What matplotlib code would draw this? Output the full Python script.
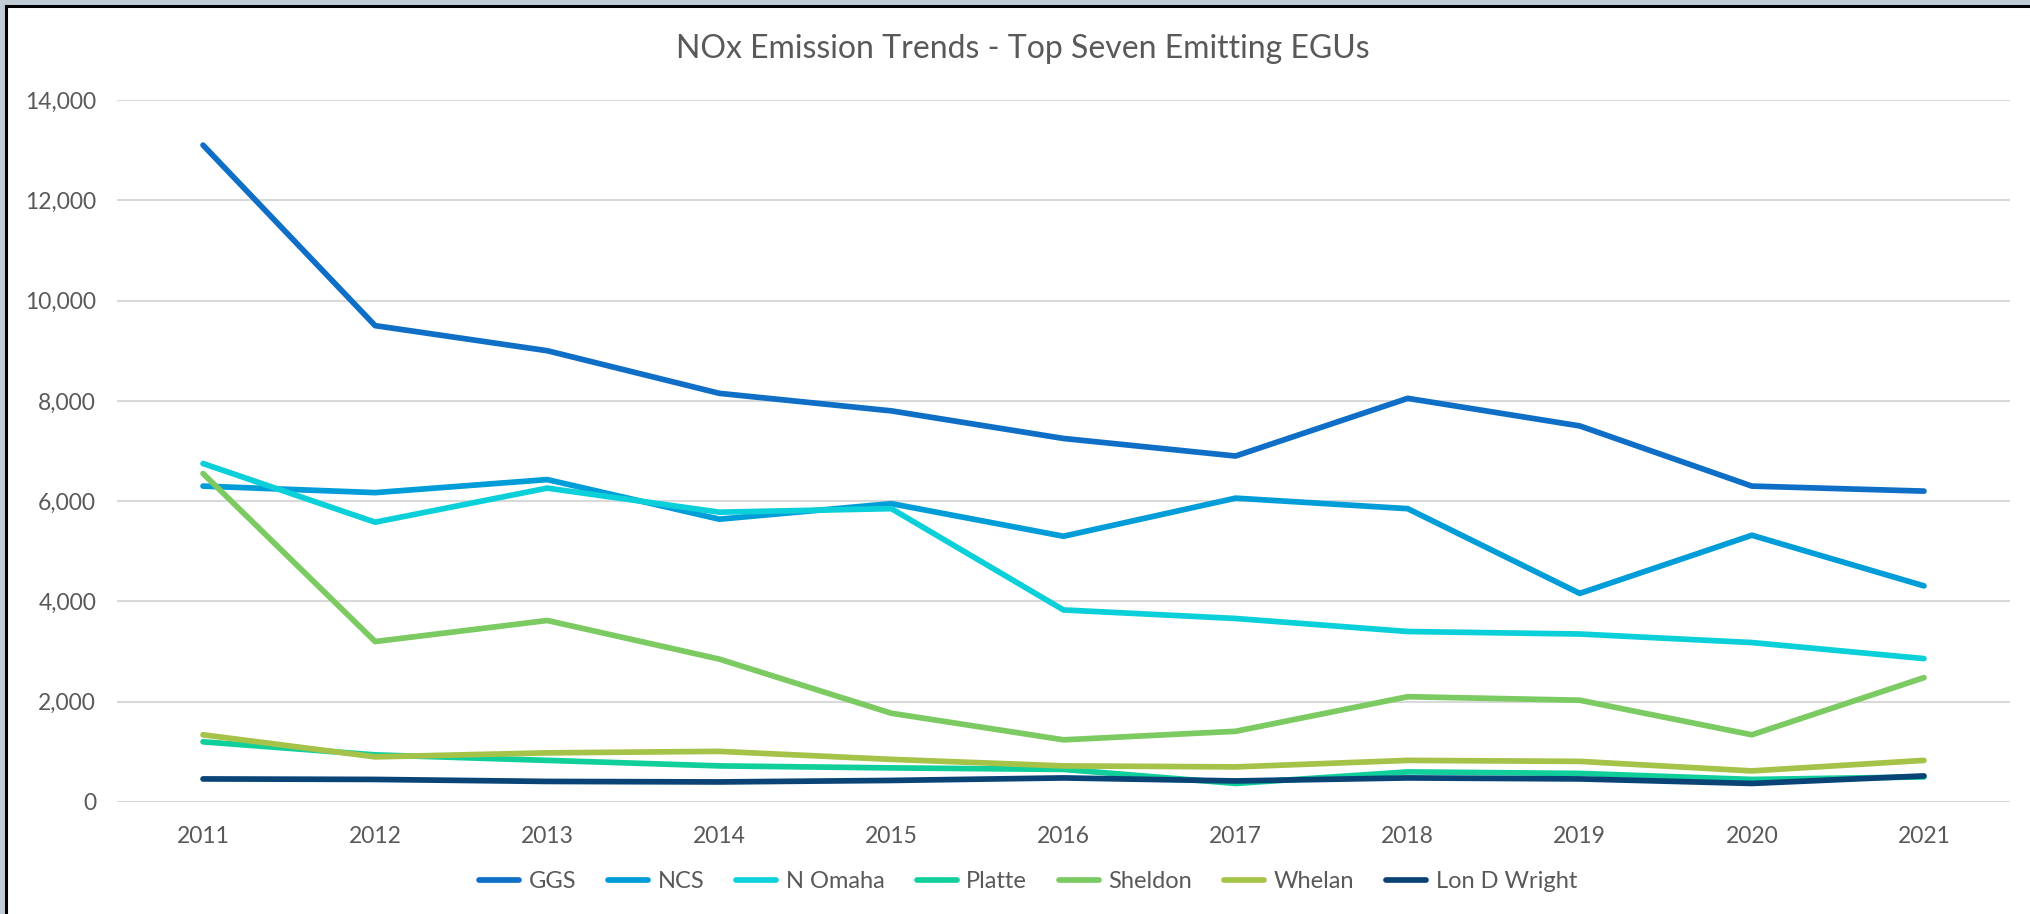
import matplotlib
matplotlib.use("Agg")
import matplotlib.pyplot as plt
from matplotlib.patches import Rectangle
from matplotlib.ticker import FuncFormatter

years = [2011, 2012, 2013, 2014, 2015, 2016, 2017, 2018, 2019, 2020, 2021]
ggs = [13100, 9500, 9000, 8150, 7800, 7250, 6900, 8050, 7500, 6300, 6200]
ncs = [6300, 6170, 6430, 5640, 5950, 5300, 6060, 5850, 4160, 5320, 4310]
n_omaha = [6750, 5580, 6260, 5780, 5850, 3830, 3660, 3400, 3350, 3180, 2860]
platte = [1200, 940, 830, 720, 680, 650, 370, 600, 570, 450, 500]
sheldon = [6550, 3200, 3620, 2850, 1770, 1240, 1410, 2100, 2030, 1340, 2480]
whelan = [1340, 900, 980, 1010, 850, 720, 700, 830, 810, 620, 830]
lon_d_wright = [460, 450, 410, 400, 430, 480, 420, 480, 460, 370, 520]

series_names = ["GGS", "NCS", "N Omaha", "Platte", "Sheldon", "Whelan", "Lon D Wright"]
series_values = [ggs, ncs, n_omaha, platte, sheldon, whelan, lon_d_wright]
colors = ["#0F6FC6", "#009DD9", "#0BD0D9", "#10CF9B", "#7CCA62", "#A5C249", "#0A4477"]

plt.rcParams['font.family'] = ['Lato', 'DejaVu Sans']
W, H = 2030, 914
fig = plt.figure(figsize=(W / 100, H / 100), dpi=100)
fig.patch.set_facecolor("#BFCCD6")
# white chart area with black frame (top/left visible)
frame = Rectangle((6 / W, -0.05), 1.1, 1 - 6 / H + 0.05, transform=fig.transFigure,
                  facecolor="white", edgecolor="black", linewidth=2.2, zorder=-5)
fig.patches.append(frame)

ax = fig.add_axes([117 / W, 1 - 802 / H, (2010 - 117) / W, (802 - 100) / H])
ax.set_zorder(2)
ax.set_facecolor("none")
x = list(range(len(years)))
for name, vals, c in zip(series_names, series_values, colors):
    ax.plot(x, vals, color=c, linewidth=4.1, solid_capstyle="round", solid_joinstyle="round", label=name)

ax.set_xlim(-0.5, len(years) - 0.5)
ax.set_ylim(0, 14000)
ax.set_yticks(range(0, 14001, 2000))
ax.yaxis.set_major_formatter(FuncFormatter(lambda v, p: f"{int(v):,}"))
ax.set_xticks(x)
ax.set_xticklabels([str(y) for y in years])
ax.grid(axis="y", color="#D9D9D9", linewidth=1.5)
ax.set_axisbelow(True)
for s in ax.spines.values():
    s.set_visible(False)
ax.tick_params(length=0, colors="#595959", labelsize=16.5)
ax.tick_params(axis="y", pad=15)
ax.tick_params(axis="x", pad=17)

fig.text(1023 / W, 1 - 49 / H, "NOx Emission Trends - Top Seven Emitting EGUs", ha="center", va="center",
         fontsize=23, color="#595959")

fig.legend(loc="center", bbox_to_anchor=(1028 / W, 1 - 882 / H), ncol=7, frameon=False,
           fontsize=17, labelcolor="#595959", handlelength=1.7, handletextpad=0.4, columnspacing=1.35)

fig.savefig("out.png", dpi=100, facecolor=fig.get_facecolor())
